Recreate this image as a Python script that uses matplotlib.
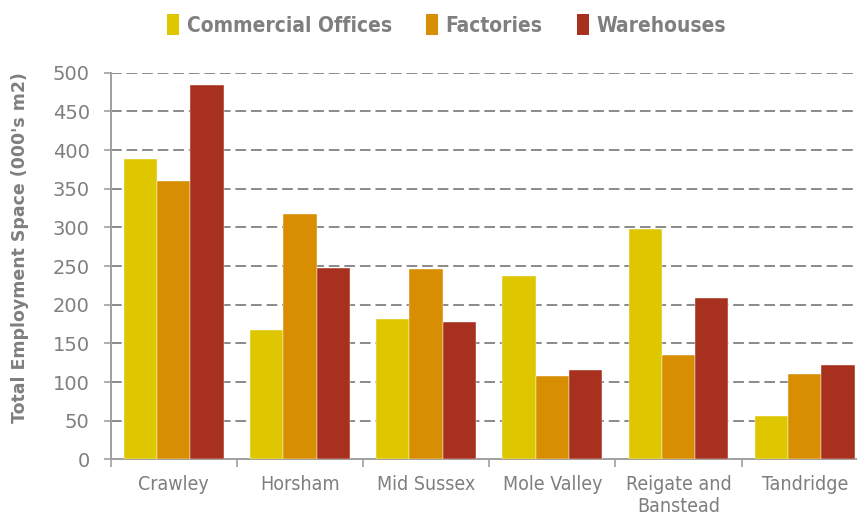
import numpy as np
import matplotlib
matplotlib.use("Agg")
import matplotlib.pyplot as plt
from matplotlib.patches import Patch

# Data (000's m2)
areas = ["Crawley", "Horsham", "Mid Sussex", "Mole Valley", "Reigate and\nBanstead", "Tandridge"]
offices = [388, 167, 181, 237, 298, 56]
factories = [360, 317, 246, 108, 135, 110]
warehouses = [484, 248, 178, 116, 209, 122]

series_names = ["Commercial Offices", "Factories", "Warehouses"]
colors = ["#DEC700", "#D78E00", "#A8301E"]
grey = "#7F7F7F"

fig = plt.figure(figsize=(8.57, 5.16), dpi=100)
# axis runs off the right edge of the picture, as in the original
ax = fig.add_axes([0.129, 0.1097, 0.8836, 0.7494])

x = np.arange(len(areas))
w = 0.264
for i, (vals, c) in enumerate(zip([offices, factories, warehouses], colors)):
    ax.bar(x + (i - 1) * w, vals, width=w, color=c, edgecolor="white",
           linewidth=0.3, zorder=3)

ax.set_xlim(-0.5, len(areas) - 0.5)
ax.set_ylim(0, 500)
ax.set_yticks(np.arange(0, 501, 50))

# gridlines
ax.yaxis.grid(True, color="#8A8A8A", linestyle=(0, (5.5, 2.5)), linewidth=1.4, zorder=0)
ax.set_axisbelow(True)

for s in ["top", "right"]:
    ax.spines[s].set_visible(False)
for s in ["left", "bottom"]:
    ax.spines[s].set_color("#A0A0A0")
    ax.spines[s].set_linewidth(1.4)

ax.tick_params(axis="y", colors="#A0A0A0", length=5, width=1.2, pad=10,
               labelcolor=grey, labelsize=14)
ax.set_xticks(x)
ax.set_xticklabels(areas, fontsize=14, color=grey, family="DejaVu Sans",
                   fontstretch="condensed", linespacing=1.25)
ax.tick_params(axis="x", length=0, pad=11)
ax.set_xticks(np.arange(-0.5, len(areas), 1), minor=True)
ax.tick_params(axis="x", which="minor", length=6, width=1.2, color="#A0A0A0")

ax.set_ylabel("Total Employment Space (000's m2)", fontsize=12.5, fontweight="bold",
              color=grey)
ax.yaxis.set_label_coords(-0.108, 0.547)

handles = [Patch(facecolor=c, edgecolor="none") for c in colors]
leg = fig.legend(handles, series_names, loc="center", bbox_to_anchor=(0.521, 0.952),
                 ncol=3, frameon=False, handlelength=0.6, handleheight=1.2,
                 handletextpad=0.35, columnspacing=1.63,
                 prop={"weight": "bold", "size": 15, "stretch": "condensed"})
for t in leg.get_texts():
    t.set_color(grey)

fig.savefig("out.png", dpi=100)
